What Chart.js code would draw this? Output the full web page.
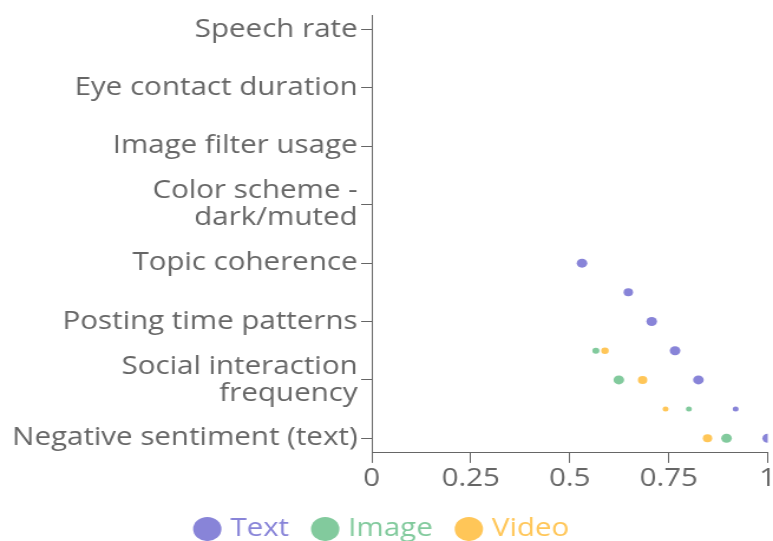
<!DOCTYPE html>
<html><head><meta charset="utf-8">
<script src="https://cdn.jsdelivr.net/npm/chart.js@4"></script>
<style>html,body{margin:0;padding:0;background:#fff;overflow:hidden}#c{display:block;width:773px !important;height:541px !important}</style>
</head><body>
<canvas id="c" width="655" height="541" style="width:773px;height:541px"></canvas>
<script>
// ---- data ----
const categories = ["Negative sentiment (text)", "Social interaction frequency", "Posting time patterns", "Topic coherence", "Color scheme - dark/muted", "Image filter usage", "Eye contact duration", "Speech rate"];
const tickLabels = [["Negative sentiment (text)"], ["Social interaction", "frequency"], ["Posting time patterns"], ["Topic coherence"], ["Color scheme -", "dark/muted"], ["Image filter usage"], ["Eye contact duration"], ["Speech rate"]];
const xTickValues = [0, 0.25, 0.5, 0.75, 1];
const seriesNames = ["Text", "Image", "Video"];
const textX = [1.0, 0.919, 0.825, 0.766, 0.707, 0.648, 0.531];
const textY = [0, 0.5, 1, 1.5, 2, 2.5, 3];
const imageX = [0.896, 0.801, 0.624, 0.566];
const imageY = [0, 0.5, 1, 1.5];
const videoX = [0.848, 0.742, 0.684, 0.589];
const videoY = [0, 0.5, 1, 1.5];

// ---- styles ----
const colors = ["#8884d8", "#82ca9d", "#ffc658"];
const textR = [4.5, 2.5, 4.5, 4.5, 4.5, 4, 4.5];
const imageR = [4.5, 2.5, 4.5, 3];
const videoR = [4, 2.5, 4, 3.2];

const pts = (xs, ys) => xs.map((x, i) => ({x: x, y: ys[i]}));

Chart.defaults.font.family = "'Open Sans', sans-serif";
Chart.defaults.font.size = 25;
Chart.defaults.color = "#666";

new Chart(document.getElementById("c"), {
  type: "scatter",
  data: {
    datasets: [
      {label: seriesNames[0], data: pts(textX, textY), backgroundColor: colors[0], borderColor: colors[0], borderWidth: 0, pointRadius: textR, pointHoverRadius: textR},
      {label: seriesNames[1], data: pts(imageX, imageY), backgroundColor: colors[1], borderColor: colors[1], borderWidth: 0, pointRadius: imageR, pointHoverRadius: imageR},
      {label: seriesNames[2], data: pts(videoX, videoY), backgroundColor: colors[2], borderColor: colors[2], borderWidth: 0, pointRadius: videoR, pointHoverRadius: videoR}
    ]
  },
  options: {
    responsive: false,
    animation: false,
    devicePixelRatio: 1,
    layout: {padding: {left: 0, right: 4, top: 15, bottom: -10.5}},
    plugins: {
      tooltip: {enabled: false},
      legend: {
        position: "bottom",
        labels: {
          usePointStyle: true,
          pointStyle: "circle",
          boxWidth: 14,
          boxHeight: 17,
          padding: 23.6,
          font: {size: 25},
          generateLabels: (chart) => {
            const items = Chart.defaults.plugins.legend.labels.generateLabels(chart);
            items.forEach((it, i) => { it.fontColor = colors[i]; it.lineWidth = 0; });
            return items;
          }
        }
      }
    },
    scales: {
      x: {
        type: "linear",
        min: 0, max: 1,
        afterBuildTicks: (s) => { s.ticks = xTickValues.map(v => ({value: v})); },
        afterFit: (s) => { s.height = 40; s.paddingLeft = 0; s.paddingRight = 0; },
        grid: {drawOnChartArea: false, drawTicks: true, tickLength: 10, color: "#666"},
        border: {display: true, color: "#666", width: 1},
        ticks: {padding: 1, color: "#666", maxRotation: 0, autoSkip: false, callback: (v) => String(v)}
      },
      y: {
        type: "linear",
        min: -0.25, max: 7.25,
        afterBuildTicks: (s) => { s.ticks = categories.map((c, i) => ({value: i})); },
        afterFit: (s) => { s.width = 315; s.paddingTop = 0; s.paddingBottom = 0; },
        grid: {drawOnChartArea: false, drawTicks: true, tickLength: 9, color: "#666"},
        border: {display: true, color: "#666", width: 1},
        ticks: {padding: 3, color: "#666", autoSkip: false, font: {size: 25, lineHeight: 1.08}, callback: (v) => tickLabels[v]}
      }
    }
  }
});
</script>
</body></html>
